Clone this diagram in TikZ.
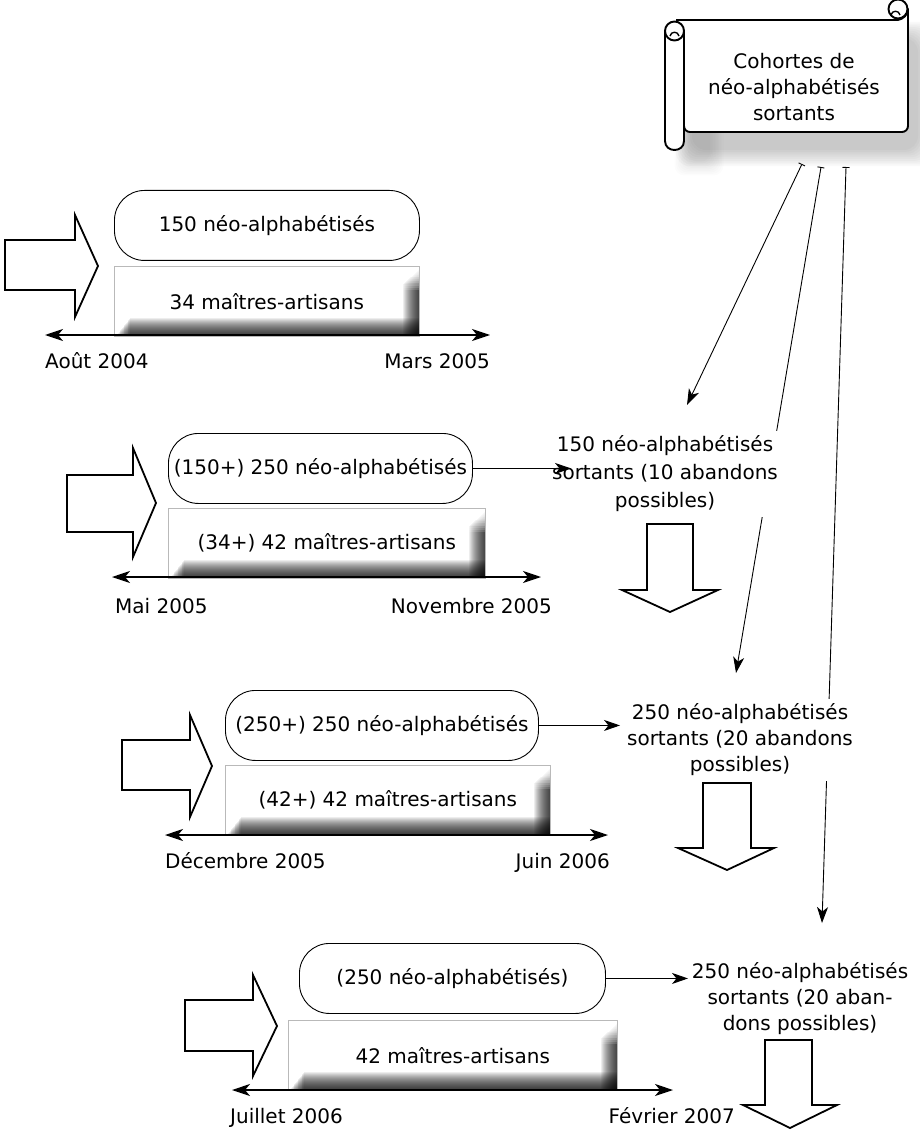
\documentclass[tikz,border=0pt]{standalone}
\usepackage{fontspec}
\setmainfont{DejaVu Sans}
\usetikzlibrary{arrows.meta}
\begin{document}
\begin{tikzpicture}[x=1pt,y=-1pt,
  every node/.style={font=\fontsize{20}{26}\selectfont, inner sep=0pt},
  rbox/.style={draw, line width=0.9pt, fill=white, rounded corners=30pt,
    minimum height=70pt, anchor=north west},
  bevel/.style={draw=gray!55, line width=0.6pt, fill=white, minimum height=70pt,
    anchor=north west,
    path picture={
      \foreach \j in {0,...,15}{
        \fill[black, opacity=0.072]
          ([xshift={-1pt*\j-1pt}, yshift={-4pt-0.9pt*\j}]path picture bounding box.north east)
          rectangle (path picture bounding box.south east);
      }
      \foreach \m in {0,...,9}{
        \fill[white, opacity=0.15]
          (path picture bounding box.north east)
          rectangle ([xshift=-18pt, yshift={-4pt-2.2pt*\m}]path picture bounding box.north east);
      }
      \foreach \k in {0,...,17}{
        \fill[black, opacity=0.072]
          ([xshift={2pt+0.8pt*\k}]path picture bounding box.south west)
          rectangle ([yshift={1pt*\k+1pt}]path picture bounding box.south east);
      }
    }},
  outtext/.style={fill=white, align=center, inner sep=5pt},
  fatarrow/.style={draw, line width=1.8pt, fill=white, line join=miter},
  tline/.style={line width=1.3pt,
    {Stealth[length=18pt,width=12pt,inset=5pt]}-{Stealth[length=18pt,width=12pt,inset=5pt]}},
  link/.style={line width=0.9pt, -{Stealth[length=16pt,width=11pt,inset=4.5pt]}},
  feed/.style={line width=0.9pt, {Bar[width=7pt]}-{Stealth[length=16pt,width=11pt,inset=4.5pt]}},
  scrollline/.style={line width=1.9pt, line join=round}
]
\useasboundingbox (0,0) rectangle (919,1131);

% ---------- scroll ----------
\foreach \i in {0,...,9}{
  \fill[black, opacity=0.022, rounded corners=14pt]
    (692-\i*1.8,38-\i*1.8) rectangle (918+\i*1.8,150+\i*1.8);
  \fill[black, opacity=0.012, rounded corners=10pt]
    (688-\i*1.5,40-\i*1.5) rectangle (710+\i*1.5,162+\i*1.5);
}
\draw[scrollline, fill=white] (676,20) -- (898,20)
  .. controls (903,19) and (908,15) .. (908,9)
  [rounded corners=6pt] -- (908,132) -- (684,132) [sharp corners] -- (684,30);
\draw[scrollline, fill=white] (898,9) circle (9.5);
\draw[line width=1.4pt] (891,15) .. controls (892,10) and (899,10) .. (900,15);
\draw[scrollline, fill=white] (665,30) -- (665,141)
  .. controls (665,153) and (684,153) .. (684,141) -- (684,30);
\draw[scrollline, fill=white] (674.5,31) circle (9.5);
\draw[line width=1.4pt] (670,36) .. controls (671,31) and (678,31) .. (679,36);
\node[align=center] (scroll) at (794,87) {Cohortes de\\néo-alphabétisés\\sortants};

% ---------- feed lines from the scroll ----------
\coordinate (s1) at (802,164); \coordinate (t1) at (687,405);
\coordinate (s2) at (821,167); \coordinate (t2) at (736,673);
\coordinate (s3) at (846,167); \coordinate (t3) at (822,923);
\draw[feed] (s1) -- (t1);
\draw[feed] (s2) -- (t2);
\draw[feed] (s3) -- (t3);

% ---------- row 1 ----------
\draw[fatarrow] (5,240) -- (75,240) -- (75,215) -- (98,266) -- (75,317) -- (75,290) -- (5,290) -- cycle;
\node[rbox, minimum width=305pt] (b1) at (114,190) {150 néo-alphabétisés};
\node[bevel, minimum width=305pt] (r1) at (114,266) {34 maîtres-artisans};
\coordinate (l1a) at (45,335); \coordinate (l1b) at (490,335);
\draw[tline] (l1a) -- (l1b);
\node[anchor=base west] (d1a) at (45,368) {Août 2004};
\node[anchor=base east] (d1b) at (490,368) {Mars 2005};

% ---------- row 2 ----------
\draw[fatarrow] (67,475) -- (133,475) -- (133,448) -- (156,503) -- (133,557) -- (133,532) -- (67,532) -- cycle;
\node[rbox, minimum width=304pt] (b2) at (168,433) {(150+) 250 néo-alphabétisés};
\node[bevel, minimum width=317pt] (r2) at (168,508) {(34+) 42 maîtres-artisans};
\coordinate (l2a) at (112,577); \coordinate (l2b) at (541,577);
\draw[tline] (l2a) -- (l2b);
\node[anchor=base west] (d2a) at (115,613) {Mai 2005};
\node[anchor=base east] (d2b) at (552,613) {Novembre 2005};
\node[outtext, font=\fontsize{20}{28}\selectfont] (o2) at (665,474) {150 néo-alphabétisés\\sortants (10 abandons\\possibles)};
\coordinate (c2) at (571,467);
\draw[link] (b2.east) -- (b2.east -| c2);
\draw[fatarrow] (647,524) -- (693,524) -- (693,590) -- (718,590) -- (670,612) -- (622,590) -- (647,590) -- cycle;

% ---------- row 3 ----------
\draw[fatarrow] (122,740) -- (190,740) -- (190,715) -- (212,766) -- (190,817) -- (190,790) -- (122,790) -- cycle;
\node[rbox, minimum width=313pt] (b3) at (225,690) {(250+) 250 néo-alphabétisés};
\node[bevel, minimum width=325pt] (r3) at (225,765) {(42+) 42 maîtres-artisans};
\coordinate (l3a) at (165,835); \coordinate (l3b) at (608,835);
\draw[tline] (l3a) -- (l3b);
\node[anchor=base west] (d3a) at (165,868) {Décembre 2005};
\node[anchor=base east] (d3b) at (610,868) {Juin 2006};
\node[outtext] (o3) at (740,740) {250 néo-alphabétisés\\sortants (20 abandons\\possibles)};
\coordinate (c3) at (620,728);
\draw[link] (b3.east) -- (b3.east -| c3);
\draw[fatarrow] (703,783) -- (751,783) -- (751,848) -- (774,848) -- (727,870) -- (678,848) -- (703,848) -- cycle;

% ---------- row 4 ----------
\draw[fatarrow] (185,1000) -- (253,1000) -- (253,975) -- (277,1026) -- (253,1076) -- (253,1051) -- (185,1051) -- cycle;
\node[rbox, minimum width=306pt] (b4) at (299,943) {(250 néo-alphabétisés)};
\node[bevel, minimum width=329pt] (r4) at (288,1020) {42 maîtres-artisans};
\coordinate (l4a) at (232,1090); \coordinate (l4b) at (673,1090);
\draw[tline] (l4a) -- (l4b);
\node[anchor=base west] (d4a) at (230,1123) {Juillet 2006};
\node[anchor=base east] (d4b) at (735,1123) {Février 2007};
\node[outtext] (o4) at (800,999) {250 néo-alphabétisés\\sortants (20 aban-\\dons possibles)};
\coordinate (c4) at (688,978);
\draw[link] (b4.east) -- (b4.east -| c4);
\draw[fatarrow] (765,1040) -- (812,1040) -- (812,1105) -- (837,1105) -- (790,1128) -- (743,1105) -- (765,1105) -- cycle;
\end{tikzpicture}
\end{document}
